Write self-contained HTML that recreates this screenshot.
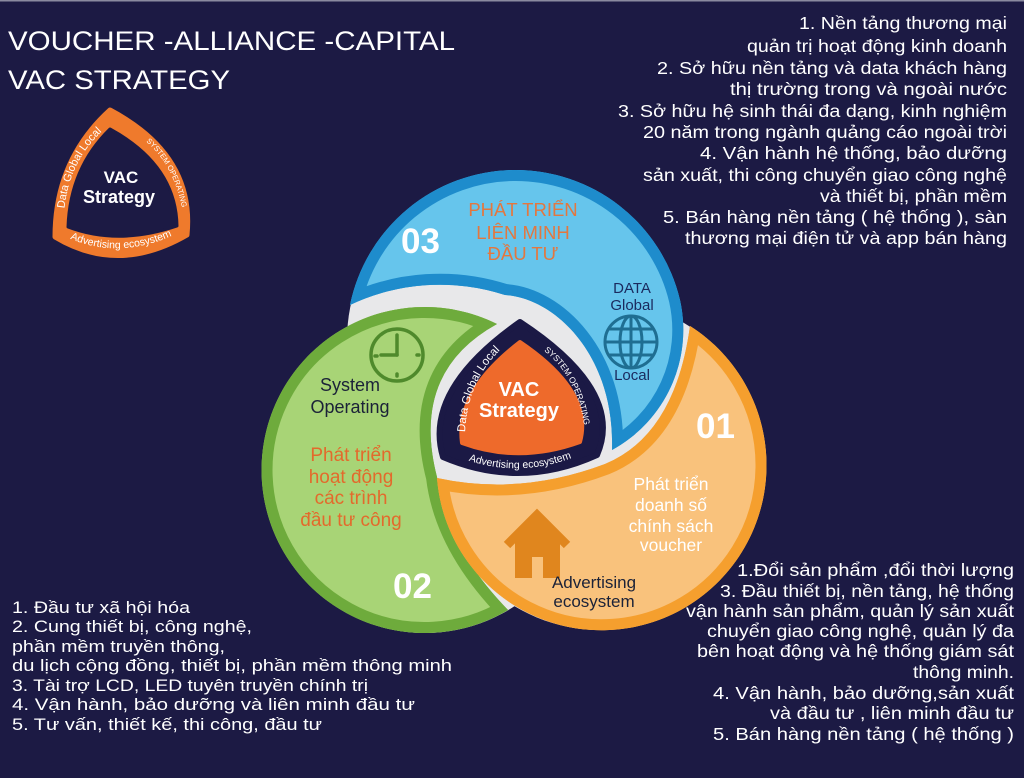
<!DOCTYPE html>
<html><head><meta charset="utf-8"><style>
html,body{margin:0;padding:0;background:#1c1a44;}
svg{display:block;font-family:"Liberation Sans",Arial,sans-serif;}
</style></head><body>
<svg width="1024" height="778" viewBox="0 0 1024 778" xmlns="http://www.w3.org/2000/svg">
<defs>
<path id="pB" d="M612,450 A137,137 0 0,0 680,300 A169,169 0 0,0 350,305 A210,210 0 0,1 505,295 C555,298 615,355 612,450 Z"/>
<path id="pG" d="M497,324 A163,163 0 1,0 508,610 Q445,545 437,477 Q410,372 497,324 Z"/>
<path id="pO" d="M690,326 A165,165 0 1,1 437,478 Q520,496 605,464 Q675,435 690,326 Z"/>
<clipPath id="cB"><use href="#pB"/></clipPath>
<clipPath id="cG"><use href="#pG"/></clipPath>
<clipPath id="cO"><use href="#pO"/></clipPath>
<path id="tL" d="M465,448 Q462,378 512,340"/>
<path id="tR" d="M533,344 Q578,368 586,438"/>
<path id="tB" d="M456,456 Q519,482 584,453"/>
<path id="mL" d="M64,214 Q68,160 106,128"/>
<path id="mR" d="M136,134 Q176,160 184,220"/>
<path id="mB" d="M64,236 Q118,262 178,233"/>
</defs>
<rect width="1024" height="778" fill="#1c1a44"/>
<rect width="1024" height="1.5" fill="#8a8aa0"/>

<text x="8" y="50" font-size="27" fill="#fff" textLength="447" lengthAdjust="spacingAndGlyphs">VOUCHER -ALLIANCE -CAPITAL</text>
<text x="8" y="89" font-size="27" fill="#fff" textLength="222" lengthAdjust="spacingAndGlyphs">VAC STRATEGY</text>

<path d="M110,110 Q55,160 55,237 Q118,275 187,235 Q195,155 110,110 Z" fill="#ef7a2c" stroke="#ef7a2c" stroke-width="5" stroke-linejoin="round"/>
<path d="M110,129 Q70,168 68,227 Q118,246 177,226 Q176,165 110,129 Z" fill="#1c1a44" stroke="#1c1a44" stroke-width="3" stroke-linejoin="round"/>
<text font-size="11" fill="#fff"><textPath href="#mL" startOffset="50%" text-anchor="middle">Data Global Local</textPath></text>
<text font-size="7.5" fill="#fff"><textPath href="#mR" startOffset="50%" text-anchor="middle">SYSTEM OPERATING</textPath></text>
<text font-size="10.5" fill="#fff"><textPath href="#mB" startOffset="50%" text-anchor="middle">Advertising ecosystem</textPath></text>
<text x="121" y="183" font-size="17" font-weight="bold" fill="#fff" text-anchor="middle">VAC</text>
<text x="119" y="203" font-size="18" font-weight="bold" fill="#fff" text-anchor="middle">Strategy</text>

<g fill="#e8e8ea">
<circle cx="515" cy="340" r="168"/>
<circle cx="425" cy="470" r="163"/>
<circle cx="600" cy="465" r="165"/>
</g>

<use href="#pB" fill="#1e8ccc"/>
<g clip-path="url(#cB)"><use href="#pB" fill="#66c5ec" stroke="#1e8ccc" stroke-width="22"/></g>
<use href="#pG" fill="#6eab3c"/>
<g clip-path="url(#cG)"><use href="#pG" fill="#a8d476" stroke="#6eab3c" stroke-width="22"/></g>
<use href="#pO" fill="#f59f2e"/>
<g clip-path="url(#cO)"><use href="#pO" fill="#f9c27c" stroke="#f59f2e" stroke-width="22"/></g>

<path d="M520,322 Q423,390 443,457 Q520,490 597,455 Q625,391 520,322 Z" fill="#1b1945" stroke="#1b1945" stroke-width="6" stroke-linejoin="round"/>
<path d="M520,342 Q455,392 462,443 Q519,464 580,442 Q594,392 520,342 Z" fill="#ee6a2b" stroke="#ee6a2b" stroke-width="4" stroke-linejoin="round"/>
<text font-size="11.5" fill="#fff"><textPath href="#tL" startOffset="50%" text-anchor="middle">Data Global Local</textPath></text>
<text font-size="8.5" fill="#fff"><textPath href="#tR" startOffset="50%" text-anchor="middle">SYSTEM OPERATING</textPath></text>
<text font-size="10.5" fill="#fff"><textPath href="#tB" startOffset="50%" text-anchor="middle">Advertising ecosystem</textPath></text>
<text x="519" y="396" font-size="20" font-weight="bold" fill="#fff" text-anchor="middle">VAC</text>
<text x="519" y="417" font-size="20" font-weight="bold" fill="#fff" text-anchor="middle">Strategy</text>

<text x="401" y="253" font-size="35" font-weight="bold" fill="#fff">03</text>
<g font-size="18.5" fill="#e3773f" text-anchor="middle">
<text x="523" y="216">PHÁT TRIỂN</text>
<text x="523" y="239">LIÊN MINH</text>
<text x="523" y="260">ĐẦU TƯ</text>
</g>
<g font-size="15" fill="#1a2a5e" text-anchor="middle">
<text x="632" y="293">DATA</text>
<text x="632" y="310">Global</text>
<text x="632" y="380">Local</text>
</g>
<g fill="none" stroke="#1f6e92" stroke-width="3">
<circle cx="631" cy="342" r="26"/>
<ellipse cx="631" cy="342" rx="11" ry="26"/>
<line x1="631" y1="316" x2="631" y2="368"/>
<line x1="605" y1="342" x2="657" y2="342"/>
<line x1="609" y1="329" x2="653" y2="329"/>
<line x1="609" y1="355" x2="653" y2="355"/>
</g>

<g fill="none" stroke="#4f8a2c" stroke-width="3.5" stroke-linecap="round">
<circle cx="397" cy="355" r="26"/>
<line x1="397" y1="355" x2="397" y2="335"/>
<line x1="397" y1="355" x2="381" y2="355"/>
<line x1="417" y1="355" x2="419" y2="355"/>
<line x1="397" y1="374" x2="397" y2="376"/>
<line x1="375" y1="356" x2="377" y2="356"/>
</g>
<g font-size="18" fill="#1b2238" text-anchor="middle">
<text x="350" y="391">System</text>
<text x="350" y="413">Operating</text>
</g>
<g font-size="19" fill="#e36a2c" text-anchor="middle">
<text x="351" y="461">Phát triển</text>
<text x="351" y="483">hoạt động</text>
<text x="351" y="504">các trình</text>
<text x="351" y="526">đầu tư công</text>
</g>
<text x="393" y="598" font-size="35" font-weight="bold" fill="#fff">02</text>

<text x="696" y="438" font-size="35" font-weight="bold" fill="#fff">01</text>
<g font-size="17.5" fill="#fff" text-anchor="middle">
<text x="671" y="490">Phát triển</text>
<text x="671" y="511">doanh số</text>
<text x="671" y="532">chính sách</text>
<text x="671" y="551">voucher</text>
</g>
<polyline points="507,545 537,515 567,545" fill="none" stroke="#e0861e" stroke-width="9" stroke-linejoin="miter"/>
<path d="M515,540 L537,519 L560,540 L560,578 L543,578 L543,557 L532,557 L532,578 L515,578 Z" fill="#e0861e"/>
<g font-size="17" fill="#1b2238" text-anchor="middle">
<text x="594" y="588">Advertising</text>
<text x="594" y="607">ecosystem</text>
</g>

<g font-size="17.5" fill="#fff" text-anchor="end">
<text x="1007" y="29" textLength="208" lengthAdjust="spacingAndGlyphs">1. Nền tảng thương mại</text>
<text x="1007" y="52" textLength="260" lengthAdjust="spacingAndGlyphs">quản trị hoạt động kinh doanh</text>
<text x="1007" y="74" textLength="350" lengthAdjust="spacingAndGlyphs">2. Sở hữu nền tảng và data khách hàng</text>
<text x="1007" y="95" textLength="277" lengthAdjust="spacingAndGlyphs">thị  trường trong và ngoài nước</text>
<text x="1007" y="117" textLength="389" lengthAdjust="spacingAndGlyphs">3. Sở hữu hệ sinh thái đa dạng, kinh nghiệm</text>
<text x="1007" y="138" textLength="364" lengthAdjust="spacingAndGlyphs">20 năm trong ngành quảng cáo ngoài trời</text>
<text x="1007" y="159" textLength="307" lengthAdjust="spacingAndGlyphs">4.  Vận hành hệ thống, bảo dưỡng</text>
<text x="1007" y="181" textLength="364" lengthAdjust="spacingAndGlyphs">sản xuất, thi công chuyển giao công nghệ</text>
<text x="1007" y="202" textLength="187" lengthAdjust="spacingAndGlyphs">và thiết bị, phần mềm</text>
<text x="1007" y="223" textLength="344" lengthAdjust="spacingAndGlyphs">5.  Bán hàng nền tảng ( hệ thống ), sàn</text>
<text x="1007" y="244" textLength="322" lengthAdjust="spacingAndGlyphs">thương mại điện tử và app bán hàng</text>
</g>

<g font-size="17" fill="#fff">
<text x="12" y="613" textLength="178" lengthAdjust="spacingAndGlyphs">1. Đầu tư xã hội hóa</text>
<text x="12" y="632" textLength="240" lengthAdjust="spacingAndGlyphs">2. Cung thiết bị, công nghệ,</text>
<text x="12" y="652" textLength="213" lengthAdjust="spacingAndGlyphs">phần mềm truyền thông,</text>
<text x="12" y="671" textLength="440" lengthAdjust="spacingAndGlyphs">du lịch cộng đồng, thiết bị, phần mềm thông minh</text>
<text x="12" y="691" textLength="356" lengthAdjust="spacingAndGlyphs">3. Tài trợ LCD, LED tuyên truyền chính trị</text>
<text x="12" y="710" textLength="403" lengthAdjust="spacingAndGlyphs">4.  Vận hành, bảo dưỡng và  liên minh đầu tư</text>
<text x="12" y="730" textLength="310" lengthAdjust="spacingAndGlyphs">5.  Tư vấn, thiết kế, thi công, đầu tư</text>
</g>

<g font-size="17.5" fill="#fff" text-anchor="end">
<text x="1014" y="576" textLength="277" lengthAdjust="spacingAndGlyphs">1.Đổi sản phẩm  ,đổi thời lượng</text>
<text x="1014" y="597" textLength="294" lengthAdjust="spacingAndGlyphs">3. Đầu thiết bị, nền tảng, hệ thống</text>
<text x="1014" y="617" textLength="328" lengthAdjust="spacingAndGlyphs">vận hành sản phẩm, quản lý sản xuất</text>
<text x="1014" y="637" textLength="307" lengthAdjust="spacingAndGlyphs">chuyển giao công nghệ, quản lý đa</text>
<text x="1014" y="657" textLength="317" lengthAdjust="spacingAndGlyphs">bên hoạt động và hệ thống giám sát</text>
<text x="1014" y="678" textLength="101" lengthAdjust="spacingAndGlyphs">thông minh.</text>
<text x="1014" y="699" textLength="301" lengthAdjust="spacingAndGlyphs">4.  Vận hành, bảo dưỡng,sản xuất</text>
<text x="1014" y="719" textLength="244" lengthAdjust="spacingAndGlyphs">và đầu tư , liên minh đầu tư</text>
<text x="1014" y="740" textLength="301" lengthAdjust="spacingAndGlyphs">5.  Bán hàng nền tảng ( hệ thống )</text>
</g>
</svg>
</body></html>
